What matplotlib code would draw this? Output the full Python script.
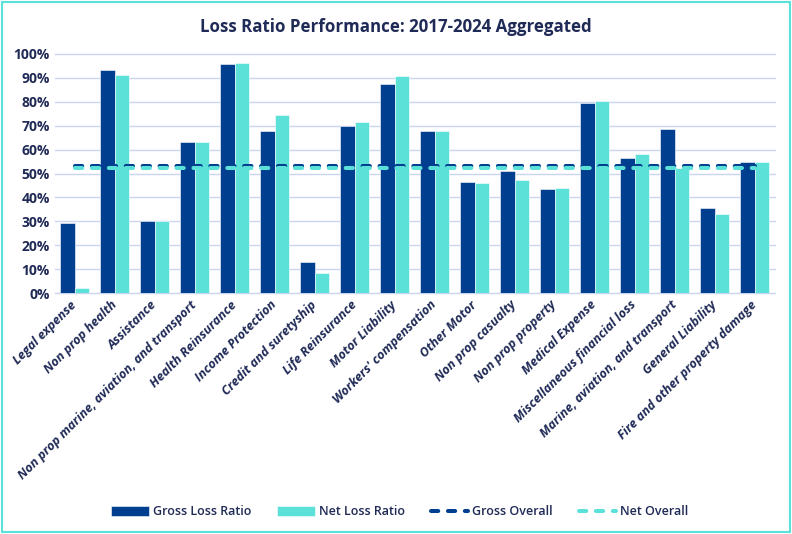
import matplotlib
matplotlib.use('agg')
import matplotlib.pyplot as plt
import numpy as np
from matplotlib.patches import Rectangle
from matplotlib.ticker import PercentFormatter

plt.rcParams['font.family'] = ['Open Sans', 'DejaVu Sans']

categories = ["Legal expense", "Non prop health", "Assistance",
              "Non prop marine, aviation, and transport", "Health Reinsurance",
              "Income Protection", "Credit and suretyship", "Life Reinsurance",
              "Motor Liability", "Workers' compensation", "Other Motor",
              "Non prop casualty", "Non prop property", "Medical Expense",
              "Miscellaneous financial loss", "Marine, aviation, and transport",
              "General Liability", "Fire and other property damage"]
gross = [29.3, 93.2, 30.2, 63.3, 95.8, 67.7, 13.2, 70.0, 87.4, 67.7,
         46.3, 51.1, 43.7, 79.4, 56.7, 68.5, 35.8, 54.7]
net = [2.1, 91.2, 30.2, 63.0, 96.3, 74.6, 8.3, 71.7, 90.6, 67.7,
       46.0, 47.3, 43.9, 80.5, 58.2, 52.3, 32.9, 54.7]
gross_overall = 53.2
net_overall = 52.2

dark = "#003F8F"
cyan = "#5CE1D9"
txt = "#1F2A56"

fig = plt.figure(figsize=(7.92, 5.34), dpi=100)
ax = fig.add_axes([0.069, 0.451, 0.909, 0.448])

x = np.arange(len(categories))
w = 0.37
b1 = ax.bar(x - w/2, np.array(gross)/100, w, color=dark, edgecolor="white", linewidth=0.4, zorder=2)
b2 = ax.bar(x + w/2, np.array(net)/100, w, color=cyan, edgecolor="white", linewidth=0.4, zorder=2)
l1, = ax.plot(x, [gross_overall/100]*len(x), color=dark, linestyle=(0, (1.8, 2.4)), linewidth=2.9,
              dash_capstyle='round', zorder=3)
l2, = ax.plot(x, [net_overall/100]*len(x), color=cyan, linestyle=(0, (1.8, 2.4)), linewidth=2.9,
              dash_capstyle='round', zorder=3)

ax.set_xlim(-0.5, len(categories) - 0.5)
ax.set_ylim(0, 1.0)
ax.set_yticks(np.arange(0, 1.01, 0.1))
ax.yaxis.set_major_formatter(PercentFormatter(1.0, decimals=0))
ax.grid(axis='y', color="#C9D6F0", linewidth=1, zorder=0)
for g in ax.get_ygridlines():
    g.set_clip_on(False)
ax.set_axisbelow(True)
for s in ax.spines.values():
    s.set_visible(False)
ax.tick_params(length=0)
ax.tick_params(axis='x', pad=7)

# size the category labels so the longest one is about 246 px long, like the reference
probe = fig.text(0, 0, max(categories, key=len), fontsize=10, fontweight='bold', fontstyle='italic')
fig.canvas.draw()
pw = probe.get_window_extent().width
probe.remove()
xfs = 10 * 246 / pw

ax.set_xticks(x)
ax.set_xticklabels(categories, rotation=45, ha='right', va='center', rotation_mode='anchor',
                   fontsize=xfs, fontweight='bold', fontstyle='italic', color=txt)
for lab in ax.get_yticklabels():
    lab.set_fontsize(10)
    lab.set_fontweight('bold')
    lab.set_color(txt)

fig.suptitle("Loss Ratio Performance: 2017-2024 Aggregated", x=0.5, y=0.967,
             fontsize=12.2, fontweight='bold', color=txt)

fig.legend([b1, b2, l1, l2], ["Gross Loss Ratio", "Net Loss Ratio", "Gross Overall", "Net Overall"],
           loc='center', bbox_to_anchor=(0.505, 0.042), ncol=4, frameon=False,
           prop={'size': 9, 'weight': 'semibold'}, handlelength=3.0, handleheight=0.8,
           columnspacing=2.1, handletextpad=0.3, labelcolor=txt)

fig.patches.append(Rectangle((0.002, 0.003), 0.996, 0.994, transform=fig.transFigure,
                             fill=False, edgecolor=cyan, linewidth=1.5))

fig.savefig("out.png", dpi=100)
